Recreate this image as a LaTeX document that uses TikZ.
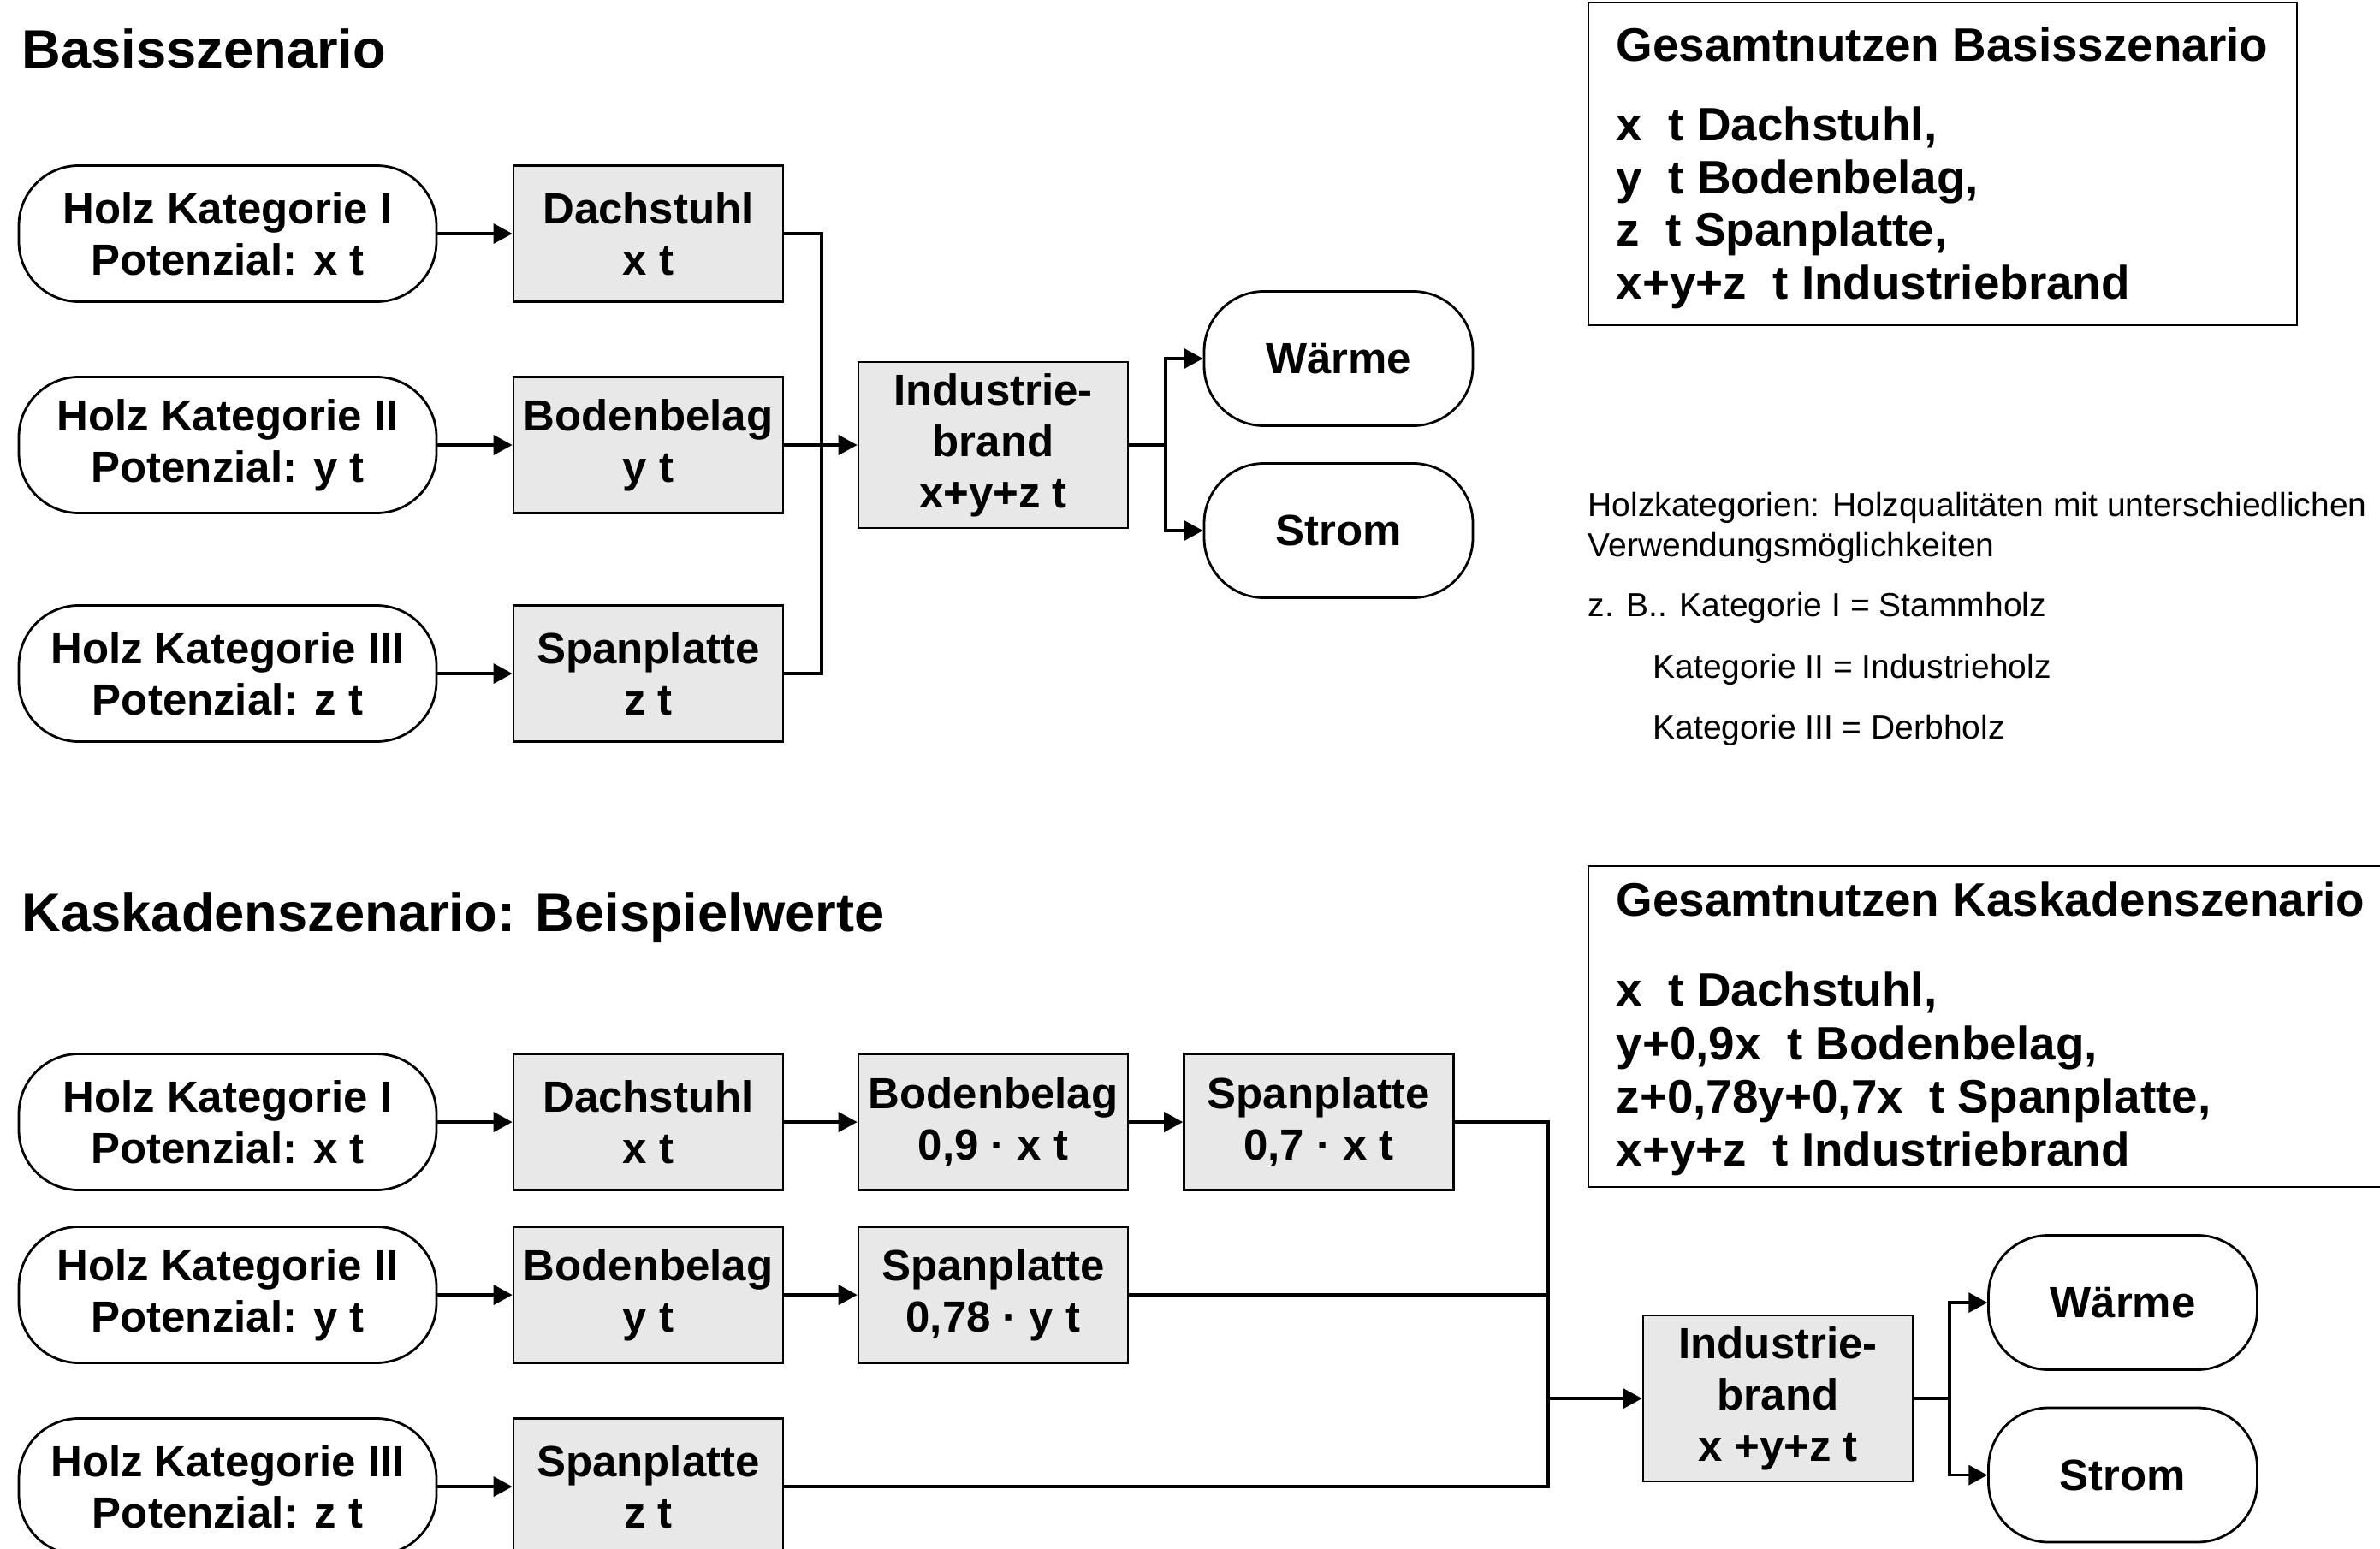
\documentclass[tikz,border=0pt]{standalone}
\usepackage{fontspec}
\setmainfont{Liberation Sans}
\usetikzlibrary{arrows.meta}
\definecolor{boxgrau}{RGB}{232,232,232}
\begin{document}
\begin{tikzpicture}[scale=0.1]
\tikzstyle{every node}+=[inner sep=0pt]
\tikzstyle{quelle}=[draw, line width=0.8pt, rounded corners=7mm, minimum width=48.8mm, minimum height=15.9mm, align=center, font=\fontsize{14.5}{17.1}\selectfont\bfseries]
\tikzstyle{prozess}=[draw, line width=0.8pt, fill=boxgrau, minimum width=31.5mm, minimum height=15.9mm, align=center, font=\fontsize{14.5}{17.1}\selectfont\bfseries]
\tikzstyle{ziel}=[quelle, minimum width=31.4mm, minimum height=15.7mm]
\tikzstyle{titel}=[anchor=base west, font=\fontsize{18}{21}\selectfont\bfseries]
\tikzstyle{summe}=[anchor=base west, font=\fontsize{15.6}{17.6}\selectfont\bfseries]
\tikzstyle{notiz}=[anchor=base west, font=\fontsize{11.1}{13.7}\selectfont]
\tikzstyle{pfeil}=[line width=1pt, -{Triangle[length=2.2mm,width=2.3mm]}]
\tikzstyle{linie}=[line width=1pt]
\useasboundingbox (0,0) rectangle (278.1,-181.0);
\clip (0,0) rectangle (278.1,-181.0);
% Basisszenario
\node[titel] (tb) at (2.5,-8.0) {Basisszenario};
\node[quelle] (o1) at (26.6,-27.3) {Holz Kategorie I\\Potenzial: x t};
\node[quelle] (o2) at (26.6,-52.0) {Holz Kategorie II\\Potenzial: y t};
\node[quelle] (o3) at (26.6,-78.7) {Holz Kategorie III\\Potenzial: z t};
\node[prozess] (b1) at (75.75,-27.3) {Dachstuhl\\x t};
\node[prozess] (b2) at (75.75,-52.0) {Bodenbelag\\y t};
\node[prozess] (b3) at (75.75,-78.7) {Spanplatte\\z t};
\node[prozess, minimum height=19.4mm] (ind1) at (116.05,-52.0) {Industrie-\\brand\\x+y+z t};
\node[ziel] (w1) at (156.4,-41.9) {Wärme};
\node[ziel] (s1) at (156.4,-62.0) {Strom};
\coordinate (j1) at (96.0,-52.0);
\coordinate (k1) at (136.2,-52.0);
\draw[pfeil] (o1.east) -- (b1.west);
\draw[pfeil] (o2.east) -- (b2.west);
\draw[pfeil] (o3.east) -- (b3.west);
\draw[linie] (b1.east) -| (j1) |- (b3.east);
\draw[pfeil] (b2.east) -- (ind1.west);
\draw[linie] (ind1.east) -- (k1);
\draw[pfeil] (k1) |- (w1.west);
\draw[pfeil] (k1) |- (s1.west);
\draw[line width=0.8pt] (185.6,-0.3) rectangle (268.4,-38.0);
\node[summe] (g1) at (188.8,-7.2) {Gesamtnutzen Basisszenario};
\node[summe] (g1a) at (188.8,-16.5) {x~ t Dachstuhl,};
\node[summe] (g1b) at (188.8,-22.7) {y~ t Bodenbelag,};
\node[summe] (g1c) at (188.8,-28.8) {z~ t Spanplatte,};
\node[summe] (g1d) at (188.8,-35.0) {x+y+z~ t Industriebrand};
\node[notiz] (n1) at (185.5,-60.3) {Holzkategorien: Holzqualitäten mit unterschiedlichen};
\node[notiz] (n2) at (185.5,-65.0) {Verwendungsmöglichkeiten};
\node[notiz] (n3) at (185.5,-72.0) {z. B.. Kategorie I = Stammholz};
\node[notiz] (n4) at (193.1,-79.2) {Kategorie II = Industrieholz};
\node[notiz] (n5) at (193.1,-86.3) {Kategorie III = Derbholz};
% Kaskadenszenario
\node[titel] (tk) at (2.5,-108.8) {Kaskadenszenario: Beispielwerte};
\node[quelle] (o4) at (26.6,-131.1) {Holz Kategorie I\\Potenzial: x t};
\node[quelle] (o5) at (26.6,-151.3) {Holz Kategorie II\\Potenzial: y t};
\node[quelle] (o6) at (26.6,-173.7) {Holz Kategorie III\\Potenzial: z t};
\node[prozess] (b4) at (75.75,-131.1) {Dachstuhl\\x t};
\node[prozess] (b5) at (75.75,-151.3) {Bodenbelag\\y t};
\node[prozess] (b6) at (75.75,-173.7) {Spanplatte\\z t};
\node[prozess] (c1) at (116.05,-131.1) {Bodenbelag\\0,9 · x t};
\node[prozess] (c2) at (116.05,-151.3) {Spanplatte\\0,78 · y t};
\node[prozess] (d1) at (154.1,-131.1) {Spanplatte\\0,7 · x t};
\node[prozess, minimum height=19.4mm] (ind2) at (207.75,-163.4) {Industrie-\\brand\\x +y+z t};
\node[ziel] (w2) at (248.05,-152.2) {Wärme};
\node[ziel] (s2) at (248.05,-172.35) {Strom};
\coordinate (j2) at (180.9,-163.4);
\coordinate (k2) at (227.8,-163.4);
\draw[pfeil] (o4.east) -- (b4.west);
\draw[pfeil] (o5.east) -- (b5.west);
\draw[pfeil] (o6.east) -- (b6.west);
\draw[pfeil] (b4.east) -- (c1.west);
\draw[pfeil] (c1.east) -- (d1.west);
\draw[pfeil] (b5.east) -- (c2.west);
\draw[linie] (d1.east) -| (j2);
\draw[linie] (c2.east) -- (c2.east -| j2);
\draw[linie] (b6.east) -| (j2);
\draw[pfeil] (j2) -- (ind2.west);
\draw[linie] (ind2.east) -- (k2);
\draw[pfeil] (k2) |- (w2.west);
\draw[pfeil] (k2) |- (s2.west);
\draw[line width=0.8pt] (185.6,-101.2) rectangle (290,-138.7);
\node[summe] (g2) at (188.8,-107.0) {Gesamtnutzen Kaskadenszenario};
\node[summe] (g2a) at (188.8,-117.5) {x~ t Dachstuhl,};
\node[summe] (g2b) at (188.8,-123.8) {y+0,9x~ t Bodenbelag,};
\node[summe] (g2c) at (188.8,-130.0) {z+0,78y+0,7x~ t Spanplatte,};
\node[summe] (g2d) at (188.8,-136.2) {x+y+z~ t Industriebrand};
\end{tikzpicture}
\end{document}
